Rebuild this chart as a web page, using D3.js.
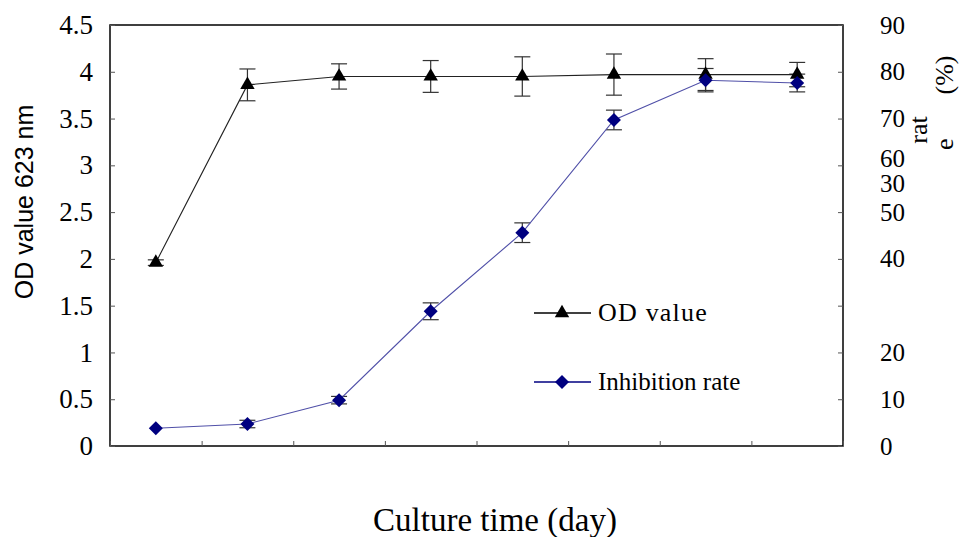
<!DOCTYPE html>
<html><head><meta charset="utf-8">
<script src="https://cdn.jsdelivr.net/npm/d3@7"></script>
<style>body{margin:0;background:#fff}svg{display:block}</style>
</head><body>
<svg id="c" width="964" height="537"></svg>
<script>
const categories = ["1","2","3","4","5","6","7","8"];
const odValues = [1.96, 3.86, 3.95, 3.95, 3.95, 3.97, 3.97, 3.97];
const odErrors = [0.03, 0.17, 0.135, 0.17, 0.21, 0.22, 0.17, 0.13];
const inhibValues = [3.8, 4.7, 9.8, 28.8, 45.6, 69.7, 78.2, 77.6];
const inhibErrors = [0.0, 0.8, 0.8, 1.8, 2.1, 2.1, 2.5, 1.9];
const leftTicks = [0, 0.5, 1, 1.5, 2, 2.5, 3, 3.5, 4, 4.5];
const leftTickLabels = ["0","0.5","1","1.5","2","2.5","3","3.5","4","4.5"];
const rightTicks = [0, 10, 20, 30, 40, 50, 60, 70, 80, 90];
const rightTickLabels = ["0","10","20","","40","50","60","70","80","90"];
const seriesNames = ["OD value", "Inhibition rate"];

const svg = d3.select("#c");
const L = 110, R = 843, T = 25, B = 446;
const serif = "'Liberation Serif','Times New Roman',serif";

const x = d3.scaleBand().domain(categories).range([L, R]).padding(0);
const xEdge = d3.scaleLinear().domain([0, categories.length]).range([L, R]);
const yL = d3.scaleLinear().domain([0, 4.5]).range([B, T]);
const yR = d3.scaleLinear().domain([0, 90]).range([B, T]);
const cx = c => x(c) + x.bandwidth() / 2;

// frame
svg.append("rect").attr("x", L).attr("y", T).attr("width", R - L).attr("height", B - T)
  .attr("fill", "none").attr("stroke", "#000").attr("stroke-width", 1.5);

// left axis
const gl = svg.append("g").attr("transform", `translate(${L},0)`)
  .call(d3.axisLeft(yL).tickValues(leftTicks).tickSize(-5).tickPadding(17)
    .tickFormat((d, i) => leftTickLabels[i]));
gl.select(".domain").remove();
gl.selectAll("line").attr("stroke", "#555");
gl.selectAll("text").attr("font-family", serif).attr("font-size", 27).attr("fill", "#000");

// right axis
const gr = svg.append("g").attr("transform", `translate(${R},0)`)
  .call(d3.axisRight(yR).tickValues(rightTicks).tickSize(-5).tickPadding(37)
    .tickFormat((d, i) => rightTickLabels[i]));
gr.select(".domain").remove();
gr.selectAll("line").attr("stroke", "#555");
gr.selectAll("text").attr("font-family", serif).attr("font-size", 25).attr("fill", "#000");
gr.selectAll(".tick").filter(d => d === 60).select("text").attr("dy", "0.05em");
// stray label
svg.append("text").attr("x", R + 37).attr("y", yR(56)).attr("dy", "0.32em")
  .attr("font-family", serif).attr("font-size", 25).text("30");

// bottom axis
const gb = svg.append("g").attr("transform", `translate(0,${B})`)
  .call(d3.axisBottom(xEdge).ticks(categories.length).tickSize(-5).tickFormat(""));
gb.select(".domain").remove();
gb.selectAll("line").attr("stroke", "#555");

// error bars
function errBars(vals, errs, scale, color) {
  const g = svg.append("g").attr("stroke", color).attr("stroke-width", 1.2).attr("fill", "none");
  categories.forEach((c, i) => {
    if (!errs[i]) return;
    const xc = cx(c), y1 = scale(vals[i] + errs[i]), y2 = scale(vals[i] - errs[i]);
    g.append("line").attr("x1", xc).attr("x2", xc).attr("y1", y1).attr("y2", y2);
    g.append("line").attr("x1", xc - 8).attr("x2", xc + 8).attr("y1", y1).attr("y2", y1);
    g.append("line").attr("x1", xc - 8).attr("x2", xc + 8).attr("y1", y2).attr("y2", y2);
  });
}
errBars(odValues, odErrors, yL, "#333");
errBars(inhibValues, inhibErrors, yR, "#333");

// lines
const lineOD = d3.line().x((d, i) => cx(categories[i])).y(d => yL(d));
const lineIn = d3.line().x((d, i) => cx(categories[i])).y(d => yR(d));
svg.append("path").attr("d", lineOD(odValues)).attr("fill", "none").attr("stroke", "#222").attr("stroke-width", 1.1);
svg.append("path").attr("d", lineIn(inhibValues)).attr("fill", "none").attr("stroke", "#5050a8").attr("stroke-width", 1.1);

// markers
const tri = d3.symbol().type(d3.symbolTriangle).size(90);
const dia = d3.symbol().type(d3.symbolSquare).size(98);
svg.append("g").selectAll("path").data(odValues).join("path")
  .attr("d", tri).attr("fill", "#000")
  .attr("transform", (d, i) => `translate(${cx(categories[i])},${yL(d)})`);
svg.append("g").selectAll("path").data(inhibValues).join("path")
  .attr("d", dia).attr("fill", "#000080")
  .attr("transform", (d, i) => `translate(${cx(categories[i])},${yR(d)}) rotate(45)`);

// legend
const lg = svg.append("g");
[[313, "#000", tri, 0], [382, "#000080", dia, 45]].forEach(([yy, col, sym, rot], i) => {
  lg.append("line").attr("x1", 534).attr("x2", 591).attr("y1", yy).attr("y2", yy)
    .attr("stroke", col).attr("stroke-width", 1.3);
  lg.append("path").attr("d", sym).attr("fill", col)
    .attr("transform", `translate(562,${yy}) rotate(${rot})`);
  lg.append("text").attr("x", 598).attr("y", yy).attr("dy", "0.32em")
    .attr("font-family", serif).attr("font-size", i === 0 ? 26 : 25)
    .attr("letter-spacing", i === 0 ? 1.2 : 0).text(seriesNames[i]);
});

// axis titles
svg.append("text").attr("transform", "translate(33,202) rotate(-90)")
  .attr("text-anchor", "middle").attr("font-family", "'Liberation Sans',Arial,sans-serif")
  .attr("font-size", 25).text("OD value 623 nm");
svg.append("text").attr("transform", "translate(927,130) rotate(-90)")
  .attr("text-anchor", "middle").attr("font-family", serif).attr("font-size", 26).text("rat");
svg.append("text").attr("transform", "translate(953,150) rotate(-90)")
  .attr("text-anchor", "start").attr("font-family", serif).attr("font-size", 26).text("e");
svg.append("text").attr("transform", "translate(953,75) rotate(-90)")
  .attr("text-anchor", "middle").attr("font-family", serif).attr("font-size", 26).text("(%)");
svg.append("text").attr("x", 495).attr("y", 531).attr("text-anchor", "middle")
  .attr("font-family", serif).attr("font-size", 33).text("Culture time (day)");
</script>
</body></html>
